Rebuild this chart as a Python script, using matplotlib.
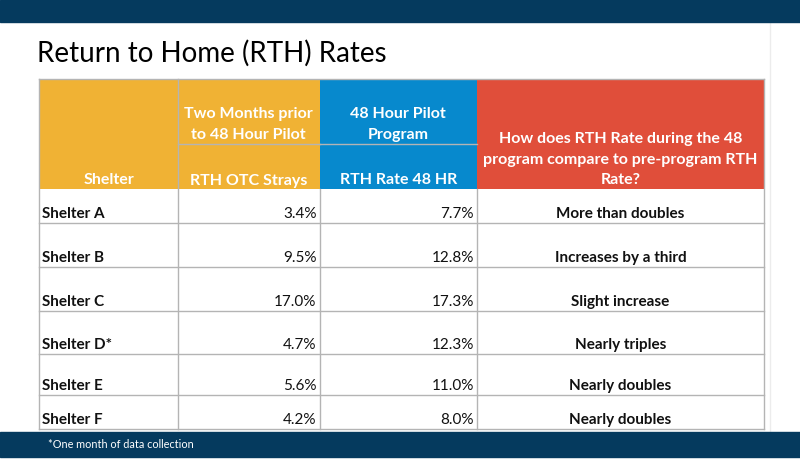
import matplotlib.pyplot as plt
from matplotlib.patches import Rectangle

plt.rcParams['font.family'] = ['Lato', 'DejaVu Sans']

# ---------------------------------------------------------------- data
title = "Return to Home (RTH) Rates"
footnote = "*One month of data collection"

shelters = ["Shelter A", "Shelter B", "Shelter C", "Shelter D*", "Shelter E", "Shelter F"]
rth_otc = [3.4, 9.5, 17.0, 4.7, 5.6, 4.2]
rth_48hr = [7.7, 12.8, 17.3, 12.3, 11.0, 8.0]
comparison = ["More than doubles", "Increases by a third", "Slight increase",
              "Nearly triples", "Nearly doubles", "Nearly doubles"]

group_headers = ["", "Two Months prior\nto 48 Hour Pilot", "48 Hour Pilot\nProgram",
                 "How does RTH Rate during the 48\nprogram compare to pre-program RTH\nRate?"]
sub_headers = ["Shelter", "RTH OTC Strays", "RTH Rate 48 HR", ""]

# ---------------------------------------------------------------- style
navy = "#053a5e"
yellow = "#f0b234"
blue = "#0789cd"
red = "#e04e3a"
grid = "#b4b4b4"
header_colors = [yellow, yellow, blue, red]

# column edges and row heights (pixels)
col_x = [39, 178, 319.5, 477, 764]
head_top, head_mid, head_bot = 79, 144, 189
row_h = [34, 44, 44, 43, 41, 34]

fig = plt.figure(figsize=(8, 4.59), dpi=100)
ax = fig.add_axes([0, 0, 1, 1])
ax.set_xlim(0, 800)
ax.set_ylim(459, 0)
ax.axis("off")

# slide bars (faint slide edge drawn underneath)
ax.plot([770, 770], [22, 431.5], color="#ececec", lw=1, zorder=0.5)
ax.add_patch(Rectangle((0, 0), 800, 22, color=navy, zorder=1))
ax.add_patch(Rectangle((0, 431.5), 800, 25.5, color=navy, zorder=1))

ax.text(37, 62, title, fontsize=20, color="black", va="baseline", ha="left")
ax.text(47.5, 447.5, footnote, fontsize=7.8, color="white", va="baseline", ha="left")

# header cells
for i in range(4):
    x0, x1 = col_x[i], col_x[i + 1]
    ax.add_patch(Rectangle((x0, head_top), x1 - x0, head_bot - head_top,
                           color=header_colors[i], lw=0))
    cx = (x0 + x1) / 2
    if i in (1, 2):
        ax.text(cx, 139, group_headers[i], fontsize=11.5, color="white", weight="bold",
                ha="center", va="baseline", linespacing=1.6, multialignment="center")
        ax.plot([x0, x1], [head_mid, head_mid], color=grid, lw=1)
    elif i == 3:
        ax.text(cx, 184.5, group_headers[i], fontsize=11.5, color="white", weight="bold",
                ha="center", va="baseline", linespacing=1.6, multialignment="center")
    if sub_headers[i]:
        ax.text(cx, 184.5, sub_headers[i], fontsize=11.5, color="white", weight="bold",
                ha="center", va="baseline")

# body rows
y = head_bot
for r in range(len(shelters)):
    y_bot = y + row_h[r]
    base = y_bot - 5
    ax.text(col_x[0] + 2.5, base, shelters[r], fontsize=11, weight="bold",
            ha="left", va="baseline", color="#111111")
    ax.text(col_x[2] - 3, base, f"{rth_otc[r]:.1f}%", fontsize=11,
            ha="right", va="baseline", color="#111111")
    ax.text(col_x[3] - 3, base, f"{rth_48hr[r]:.1f}%", fontsize=11,
            ha="right", va="baseline", color="#111111")
    ax.text((col_x[3] + col_x[4]) / 2, base, comparison[r], fontsize=11, weight="bold",
            ha="center", va="baseline", color="#111111")
    ax.plot([col_x[0], col_x[-1]], [y_bot, y_bot], color=grid, lw=1)
    y = y_bot

# vertical grid lines
for i, x in enumerate(col_x):
    top = head_top if i in (0, 1, 4) else head_bot
    ax.plot([x, x], [top, y], color=grid, lw=1)
ax.plot([col_x[0], col_x[-1]], [head_top, head_top], color=grid, lw=1)

fig.savefig("out.png", dpi=100)
